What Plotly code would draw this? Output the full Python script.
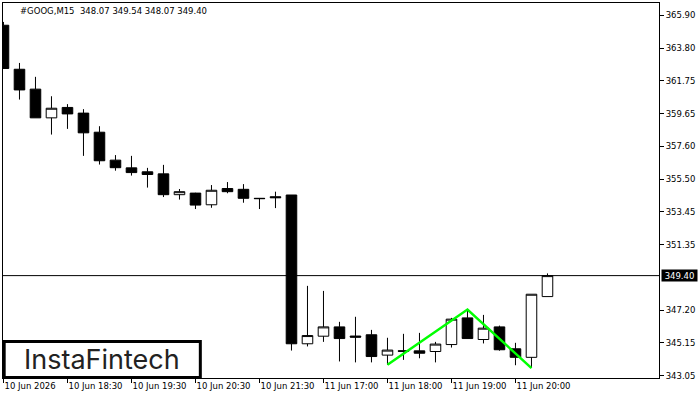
import plotly.graph_objects as go

# ---- data (bar index, OHLC) ----
bar_index = list(range(35))
opens = [365.27, 362.48, 361.22, 359.40, 360.06, 359.70, 358.49, 356.72, 356.23, 355.98,
         355.85, 354.53, 354.63, 353.89, 354.92, 354.87, 354.30, 354.40, 354.51, 345.08,
         345.56, 346.15, 345.57, 345.65, 344.36, 344.64, 344.63, 344.59, 345.03, 346.72,
         345.35, 346.15, 344.76, 344.22, 348.07]
highs = [365.48, 362.88, 362.00, 360.77, 360.27, 359.95, 358.87, 357.04, 356.99, 356.23,
         356.42, 354.89, 354.65, 355.14, 355.33, 355.20, 354.32, 354.72, 354.51, 348.75,
         348.43, 346.47, 346.79, 345.96, 345.46, 345.71, 345.77, 345.20, 346.72, 347.20,
         346.91, 346.23, 345.14, 348.22, 349.54]
lows = [362.53, 360.56, 359.40, 358.34, 358.70, 356.99, 356.44, 356.05, 355.74, 354.98,
        354.38, 354.22, 353.62, 353.70, 354.62, 354.02, 353.62, 353.68, 344.65, 344.91,
        345.20, 343.96, 343.90, 343.90, 343.75, 344.06, 344.16, 343.90, 344.84, 345.41,
        345.10, 344.64, 343.72, 343.54, 348.07]
closes = [362.53, 361.17, 359.40, 360.01, 359.65, 358.45, 356.68, 356.24, 355.93, 355.81,
          354.53, 354.72, 353.87, 354.81, 354.72, 354.30, 354.28, 354.34, 345.08, 345.60,
          346.15, 345.41, 345.50, 344.27, 344.68, 344.60, 344.48, 345.06, 346.64, 345.41,
          346.07, 344.70, 344.22, 348.22, 349.40]

# pattern (double top) line
pattern_x = [24, 29, 33]
pattern_y = [343.75, 347.25, 343.54]

current_price = 349.40

x_tick_vals = [0, 4, 8, 12, 16, 20, 24, 28, 32]
x_tick_text = ["10 Jun 2026", "10 Jun 18:30", "10 Jun 19:30", "10 Jun 20:30", "10 Jun 21:30",
               "11 Jun 17:00", "11 Jun 18:00", "11 Jun 19:00", "11 Jun 20:00"]
y_tick_vals = [365.90, 363.80, 361.75, 359.65, 357.60, 355.50, 353.45, 351.35, 347.20, 345.15, 343.05]
y_tick_text = ["%.2f" % v for v in y_tick_vals]

title_text = "#GOOG,M15\u00a0 348.07 349.54 348.07 349.40"
logo_text = "InstaFintech"

FONT = "DejaVu Sans"

fig = go.Figure()
fig.add_trace(go.Candlestick(
    x=bar_index, open=opens, high=highs, low=lows, close=closes,
    increasing=dict(fillcolor="white", line=dict(color="black", width=1)),
    decreasing=dict(fillcolor="black", line=dict(color="black", width=1)),
    whiskerwidth=0, showlegend=False, hoverinfo="skip",
))
fig.add_trace(go.Scatter(
    x=pattern_x, y=pattern_y, mode="lines",
    line=dict(color="#00ff00", width=2.5), showlegend=False, hoverinfo="skip",
))

fig.add_shape(type="line", xref="paper", x0=0, x1=1, yref="y", y0=current_price, y1=current_price,
              line=dict(color="black", width=1))

# logo box
fig.add_shape(type="rect", xref="paper", yref="paper", x0=0.0018, x1=0.3008, y0=0.0013, y1=0.0973,
              fillcolor="white", line=dict(color="black", width=3), layer="above")
fig.add_annotation(xref="paper", yref="paper", x=0.1512, y=0.050, text=logo_text, showarrow=False,
                   xanchor="center", yanchor="middle",
                   font=dict(family="Inter", size=27, color="#222222"))

fig.add_annotation(xref="paper", yref="paper", x=0.0229, y=0.98, text=title_text, showarrow=False,
                   xanchor="left", yanchor="middle", font=dict(family=FONT, size=8.5, color="black"))

fig.add_annotation(xref="paper", yref="y", x=1, y=current_price, xshift=2, text="%.2f" % current_price,
                   showarrow=False, xanchor="left", yanchor="middle", bgcolor="black",
                   width=35, height=11, borderpad=0,
                   font=dict(family=FONT, size=8.5, color="white"))

fig.update_layout(
    width=700, height=400,
    margin=dict(l=3, r=41, t=3, b=22),
    paper_bgcolor="white", plot_bgcolor="white",
    boxgap=0.34, boxgroupgap=0,
    hovermode=False,
    xaxis=dict(range=[-0.03, 40.97], showgrid=False, zeroline=False, rangeslider=dict(visible=False),
               tickmode="array", tickvals=x_tick_vals, ticktext=x_tick_text,
               ticks="outside", ticklen=4, tickcolor="black", ticklabelposition="outside right",
               tickfont=dict(family=FONT, size=8.5, color="black"),
               showline=True, linecolor="black", linewidth=1, mirror=True),
    yaxis=dict(range=[342.91, 366.68], side="right", showgrid=False, zeroline=False,
               tickmode="array", tickvals=y_tick_vals, ticktext=y_tick_text,
               ticks="outside", ticklen=4, tickcolor="black",
               tickfont=dict(family=FONT, size=8.5, color="black"),
               showline=True, linecolor="black", linewidth=1, mirror=True),
)

fig.write_html("out.html", config={"displayModeBar": False})
